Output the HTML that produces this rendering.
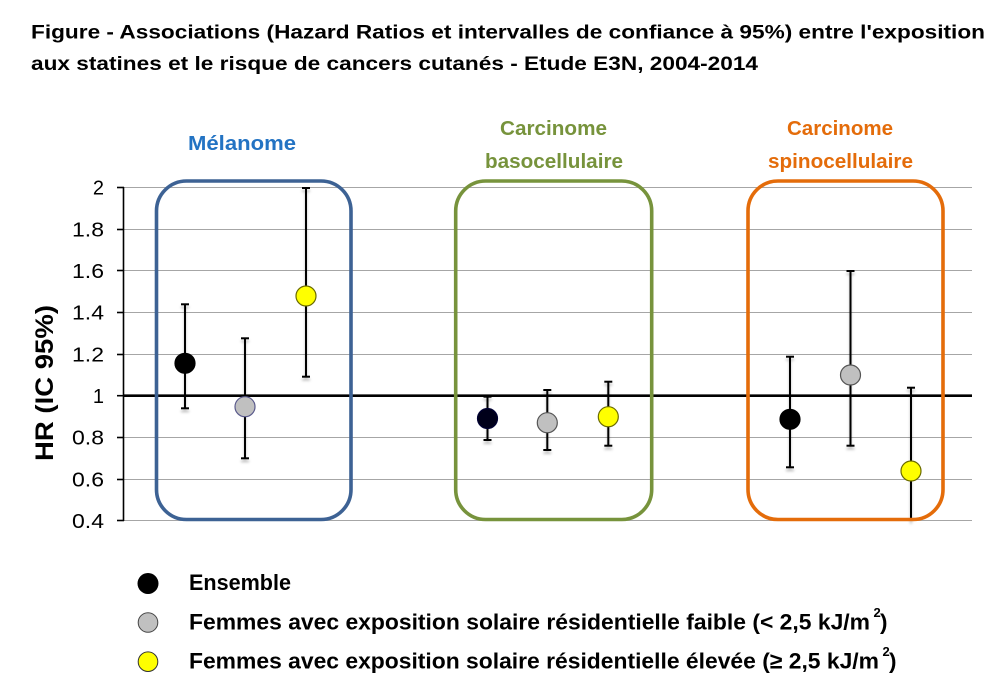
<!DOCTYPE html>
<html>
<head>
<meta charset="utf-8">
<style>
  html,body{margin:0;padding:0;background:#fff;}
  svg{display:block;}
  .t{font-family:"Liberation Sans",Arial,sans-serif;}
</style>
</head>
<body>
<svg width="994" height="691" viewBox="0 0 994 691" xmlns="http://www.w3.org/2000/svg">
  <defs>
    <filter id="sh" x="-50%" y="-50%" width="200%" height="200%">
      <feDropShadow dx="0" dy="3" stdDeviation="1.4" flood-color="#000" flood-opacity="0.25"/>
    </filter>
  </defs>
  <rect x="0" y="0" width="994" height="691" fill="#fff"/>

  <!-- Title -->
  <text class="t" x="31" y="38.3" font-size="19.5" font-weight="bold" fill="#000" textLength="954" lengthAdjust="spacingAndGlyphs">Figure - Associations (Hazard Ratios et intervalles de confiance à 95%) entre l'exposition</text>
  <text class="t" x="31" y="70" font-size="19.5" font-weight="bold" fill="#000" textLength="727" lengthAdjust="spacingAndGlyphs">aux statines et le risque de cancers cutanés - Etude E3N, 2004-2014</text>

  <!-- Category labels -->
  <text class="t" x="188" y="150" font-size="20.5" font-weight="bold" fill="#2373c3" textLength="108" lengthAdjust="spacingAndGlyphs">Mélanome</text>
  <text class="t" x="500" y="135" font-size="20.5" font-weight="bold" fill="#77933c" textLength="107" lengthAdjust="spacingAndGlyphs">Carcinome</text>
  <text class="t" x="485" y="168" font-size="20.5" font-weight="bold" fill="#77933c" textLength="138" lengthAdjust="spacingAndGlyphs">basocellulaire</text>
  <text class="t" x="787" y="135" font-size="20.5" font-weight="bold" fill="#e46c0a" textLength="106" lengthAdjust="spacingAndGlyphs">Carcinome</text>
  <text class="t" x="768" y="168" font-size="20.5" font-weight="bold" fill="#e46c0a" textLength="145" lengthAdjust="spacingAndGlyphs">spinocellulaire</text>

  <!-- Gridlines -->
  <g stroke="#a6a6a6" stroke-width="1">
    <line x1="123" y1="187.5" x2="972" y2="187.5"/>
    <line x1="123" y1="229.5" x2="972" y2="229.5"/>
    <line x1="123" y1="270.5" x2="972" y2="270.5"/>
    <line x1="123" y1="312.5" x2="972" y2="312.5"/>
    <line x1="123" y1="354.5" x2="972" y2="354.5"/>
    <line x1="123" y1="437.5" x2="972" y2="437.5"/>
    <line x1="123" y1="479.5" x2="972" y2="479.5"/>
    <line x1="123" y1="520.5" x2="972" y2="520.5"/>
  </g>

  <!-- Axis + ticks -->
  <g stroke="#000" stroke-width="1.6">
    <line x1="123.5" y1="187" x2="123.5" y2="521"/>
    <line x1="117" y1="187.5" x2="124" y2="187.5"/>
    <line x1="117" y1="229.5" x2="124" y2="229.5"/>
    <line x1="117" y1="270.5" x2="124" y2="270.5"/>
    <line x1="117" y1="312.5" x2="124" y2="312.5"/>
    <line x1="117" y1="354.5" x2="124" y2="354.5"/>
    <line x1="117" y1="395.7" x2="124" y2="395.7"/>
    <line x1="117" y1="437.5" x2="124" y2="437.5"/>
    <line x1="117" y1="479.5" x2="124" y2="479.5"/>
    <line x1="117" y1="520.5" x2="124" y2="520.5"/>
  </g>

  <!-- Tick labels -->
  <g class="t" font-size="20" fill="#000" text-anchor="end">
    <text x="104" y="194.5">2</text>
    <text x="104" y="236.3" textLength="32" lengthAdjust="spacingAndGlyphs">1.8</text>
    <text x="104" y="277.9" textLength="32" lengthAdjust="spacingAndGlyphs">1.6</text>
    <text x="104" y="319.6" textLength="32" lengthAdjust="spacingAndGlyphs">1.4</text>
    <text x="104" y="361.3" textLength="32" lengthAdjust="spacingAndGlyphs">1.2</text>
    <text x="104" y="403">1</text>
    <text x="104" y="444.6" textLength="32" lengthAdjust="spacingAndGlyphs">0.8</text>
    <text x="104" y="486.3" textLength="32" lengthAdjust="spacingAndGlyphs">0.6</text>
    <text x="104" y="528" textLength="32" lengthAdjust="spacingAndGlyphs">0.4</text>
  </g>

  <!-- Y axis label -->
  <text class="t" transform="translate(53,461) rotate(-90)" x="0" y="0" font-size="25" font-weight="bold" fill="#000" textLength="156" lengthAdjust="spacingAndGlyphs">HR (IC 95%)</text>

  <!-- Reference line at 1 -->
  <line x1="123" y1="395.7" x2="972" y2="395.7" stroke="#000" stroke-width="2.6"/>

  <!-- Error bars -->
  <g stroke="#000" stroke-width="2" filter="url(#sh)">
    <line x1="185" y1="304.3" x2="185" y2="408.3"/><line x1="181" y1="304.3" x2="189" y2="304.3"/><line x1="181" y1="408.3" x2="189" y2="408.3"/>
    <line x1="245" y1="338.3" x2="245" y2="458.3"/><line x1="241" y1="338.3" x2="249" y2="338.3"/><line x1="241" y1="458.3" x2="249" y2="458.3"/>
    <line x1="306" y1="188" x2="306" y2="376.7"/><line x1="302" y1="188" x2="310" y2="188"/><line x1="302" y1="376.7" x2="310" y2="376.7"/>

    <line x1="487.5" y1="396.7" x2="487.5" y2="440"/><line x1="483.5" y1="396.7" x2="491.5" y2="396.7"/><line x1="483.5" y1="440" x2="491.5" y2="440"/>
    <line x1="547.3" y1="390" x2="547.3" y2="450"/><line x1="543.3" y1="390" x2="551.3" y2="390"/><line x1="543.3" y1="450" x2="551.3" y2="450"/>
    <line x1="608.3" y1="381.7" x2="608.3" y2="445.7"/><line x1="604.3" y1="381.7" x2="612.3" y2="381.7"/><line x1="604.3" y1="445.7" x2="612.3" y2="445.7"/>

    <line x1="790" y1="356.7" x2="790" y2="467.3"/><line x1="786" y1="356.7" x2="794" y2="356.7"/><line x1="786" y1="467.3" x2="794" y2="467.3"/>
    <line x1="850.5" y1="271" x2="850.5" y2="445.7"/><line x1="846.5" y1="271" x2="854.5" y2="271"/><line x1="846.5" y1="445.7" x2="854.5" y2="445.7"/>
    <line x1="911" y1="387.7" x2="911" y2="520.7"/><line x1="907" y1="387.7" x2="915" y2="387.7"/>
  </g>

  <!-- Markers -->
  <g stroke-width="1.2">
    <circle cx="185" cy="363.3" r="10" fill="#000" stroke="#000"/>
    <circle cx="245" cy="406.7" r="10" fill="#c0c0c0" stroke="#5a5a8c"/>
    <circle cx="306" cy="296" r="10" fill="#ffff00" stroke="#6b6b00"/>

    <circle cx="487.5" cy="418.5" r="10" fill="#00001a" stroke="#000033"/>
    <circle cx="547.3" cy="422.7" r="10" fill="#c0c0c0" stroke="#555"/>
    <circle cx="608.3" cy="416.7" r="10" fill="#ffff00" stroke="#6b6b00"/>

    <circle cx="790" cy="419.3" r="10" fill="#000" stroke="#000"/>
    <circle cx="850.5" cy="375" r="10" fill="#c0c0c0" stroke="#555"/>
    <circle cx="911" cy="471" r="10" fill="#ffff00" stroke="#6b6b00"/>
  </g>

  <!-- Category boxes -->
  <g fill="none" stroke-width="3.6">
    <rect x="156.5" y="181" width="194.5" height="338.5" rx="30" ry="30" stroke="#3d6294"/>
    <rect x="455.7" y="181" width="196" height="338.5" rx="30" ry="30" stroke="#77933c"/>
    <rect x="748" y="181" width="195" height="338.5" rx="30" ry="30" stroke="#e46c0a"/>
  </g>

  <!-- Legend -->
  <circle cx="148" cy="583.5" r="10.5" fill="#000"/>
  <circle cx="148" cy="622.5" r="9.8" fill="#c0c0c0" stroke="#444" stroke-width="1"/>
  <circle cx="148" cy="661.7" r="9.8" fill="#ffff00" stroke="#333" stroke-width="1"/>

  <g class="t" font-weight="bold" fill="#000">
    <text x="189" y="590" font-size="22.5" textLength="102" lengthAdjust="spacingAndGlyphs">Ensemble</text>
    <text x="189" y="629.3" font-size="22.5" textLength="681" lengthAdjust="spacingAndGlyphs">Femmes avec exposition solaire résidentielle  faible (&lt; 2,5 kJ/m</text>
    <text x="873.5" y="617" font-size="13">2</text>
    <text x="880" y="629.3" font-size="22.5">)</text>
    <text x="189" y="668.3" font-size="22.5" textLength="690" lengthAdjust="spacingAndGlyphs">Femmes avec exposition solaire résidentielle  élevée (≥ 2,5 kJ/m</text>
    <text x="882.5" y="656" font-size="13">2</text>
    <text x="889" y="668.3" font-size="22.5">)</text>
  </g>
</svg>
</body>
</html>
